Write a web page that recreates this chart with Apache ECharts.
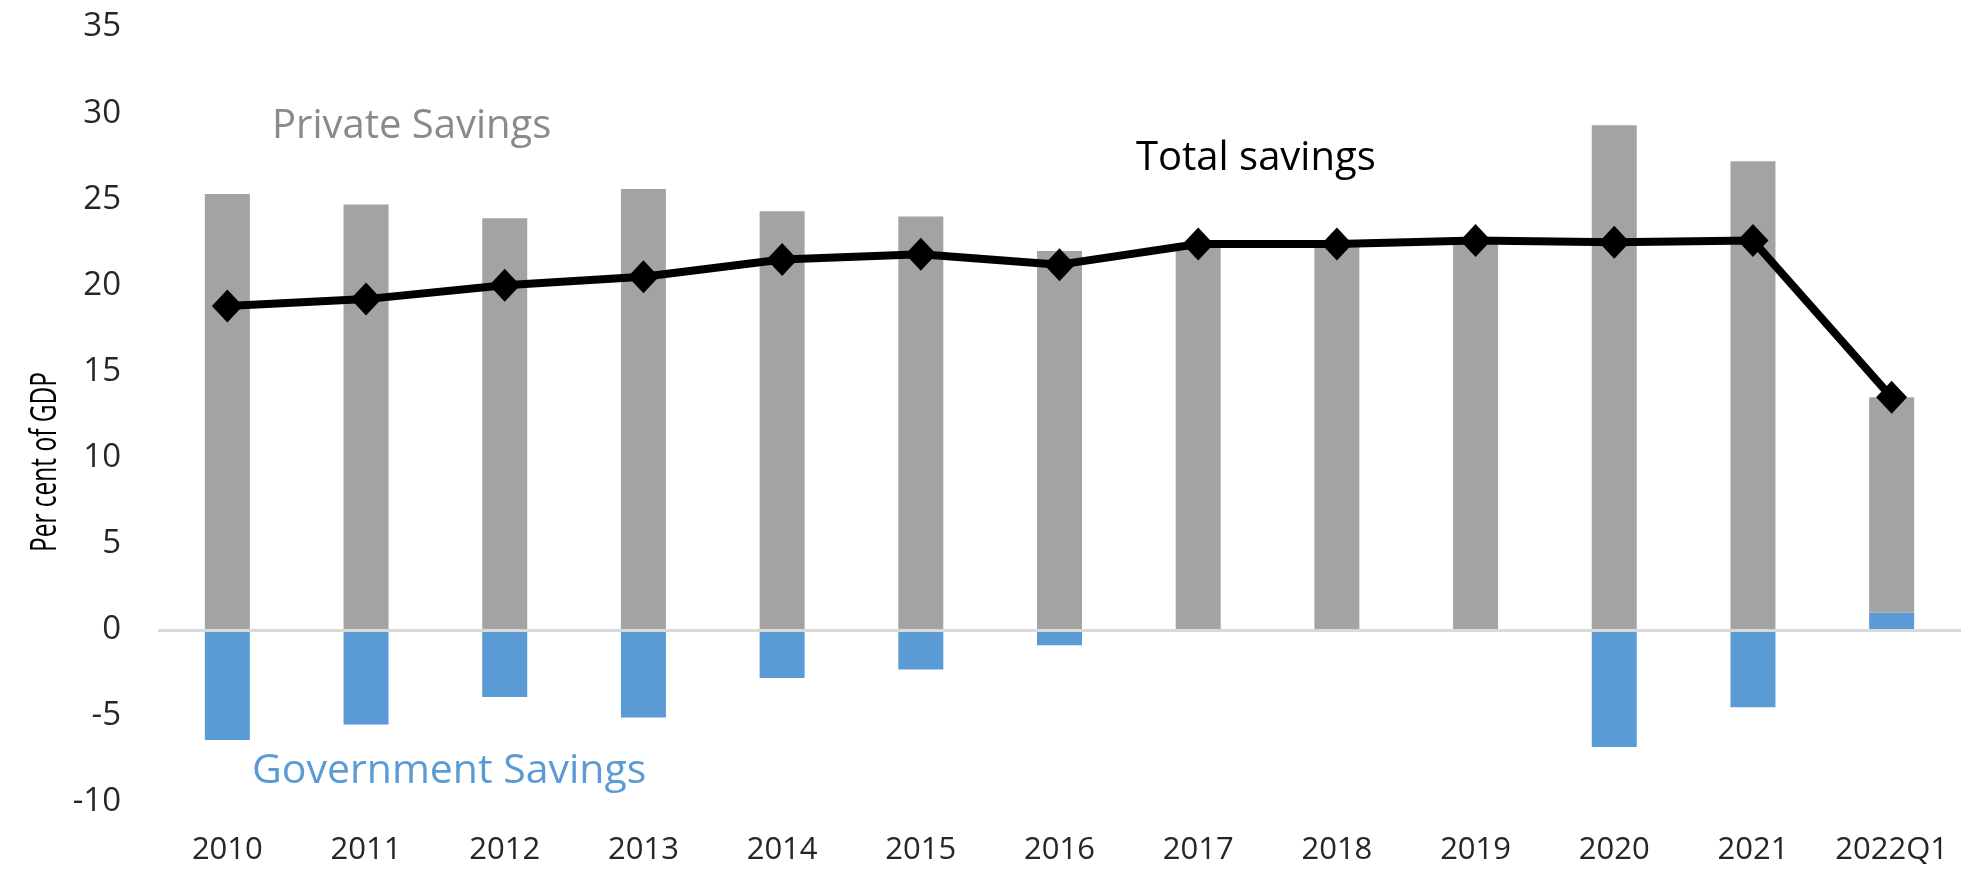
<!DOCTYPE html>
<html>
<head>
<meta charset="utf-8">
<script src="https://cdn.jsdelivr.net/npm/echarts@6/dist/echarts.min.js"></script>
<style>
    html, body { margin: 0; padding: 0; background: #fff; }
    #chart { width: 1967px; height: 870px; }
</style>
</head>
<body>
<div id="chart"></div>
<script>
var years = ['2010', '2011', '2012', '2013', '2014', '2015', '2016', '2017', '2018', '2019', '2020', '2021', '2022Q1'];
var privateSavings = [25.3, 24.7, 23.9, 25.6, 24.3, 24.0, 22.0, 22.4, 22.4, 22.6, 29.3, 27.2, 12.5];
var governmentSavings = [-6.4, -5.5, -3.9, -5.1, -2.8, -2.3, -0.9, 0, 0, 0, -6.8, -4.5, 1.0];
var totalSavings = [18.8, 19.2, 20.0, 20.5, 21.5, 21.8, 21.2, 22.4, 22.4, 22.6, 22.5, 22.6, 13.5];
var yTicks = { min: -10, max: 35, step: 5 };

var font = '"Open Sans", sans-serif';

var option = {
    animation: false,
    backgroundColor: '#fff',
    grid: {
        left: 158,
        right: 6,
        top: 27,
        bottom: 68
    },
    xAxis: {
        type: 'category',
        data: years,
        axisLine: { show: false, onZero: false },
        axisTick: { show: false },
        axisLabel: {
            interval: 0,
            margin: 33,
            color: '#262626',
            fontSize: 31,
            fontFamily: font
        }
    },
    yAxis: {
        type: 'value',
        min: yTicks.min,
        max: yTicks.max,
        interval: yTicks.step,
        splitLine: { show: false },
        axisLine: { show: false },
        axisTick: { show: false },
        axisLabel: {
            margin: 37,
            color: '#262626',
            fontSize: 33,
            fontFamily: font
        }
    },
    series: [{
        name: 'Government Savings',
        type: 'bar',
        stack: 'savings',
        barWidth: 45,
        data: governmentSavings,
        itemStyle: { color: '#5b9bd5' },
        markLine: {
            silent: true,
            symbol: 'none',
            label: { show: false },
            lineStyle: { color: '#d9d9d9', width: 3, type: 'solid' },
            data: [{ yAxis: 0 }]
        }
    }, {
        name: 'Private Savings',
        type: 'bar',
        stack: 'savings',
        barWidth: 45,
        data: privateSavings,
        itemStyle: { color: '#a3a3a3' }
    }, {
        name: 'Total savings',
        type: 'line',
        data: totalSavings,
        z: 5,
        symbol: 'diamond',
        symbolSize: [31, 33],
        lineStyle: { color: '#000', width: 8 },
        itemStyle: { color: '#000' }
    }],
    graphic: [{
        // axis title is a condensed face in the original, squeeze it along its length
        type: 'text',
        x: 46,
        y: 462,
        rotation: Math.PI / 2,
        scaleX: 0.68,
        style: {
            text: 'Per cent of GDP',
            fill: '#000',
            font: '36px "Open Sans", sans-serif',
            textAlign: 'center',
            textVerticalAlign: 'middle'
        }
    }, {
        type: 'text',
        x: 272,
        y: 127,
        style: {
            text: 'Private Savings',
            fill: '#8a8a8a',
            font: '40px ' + font,
            textAlign: 'left',
            textVerticalAlign: 'middle'
        }
    }, {
        type: 'text',
        x: 1136,
        y: 159,
        style: {
            text: 'Total savings',
            fill: '#000',
            font: '40px ' + font,
            textAlign: 'left',
            textVerticalAlign: 'middle'
        }
    }, {
        type: 'text',
        x: 252,
        y: 771,
        style: {
            text: 'Government Savings',
            fill: '#5b9bd5',
            font: '41px ' + font,
            textAlign: 'left',
            textVerticalAlign: 'middle'
        }
    }]
};

var chart = echarts.init(document.getElementById('chart'));
chart.setOption(option);
</script>
</body>
</html>
